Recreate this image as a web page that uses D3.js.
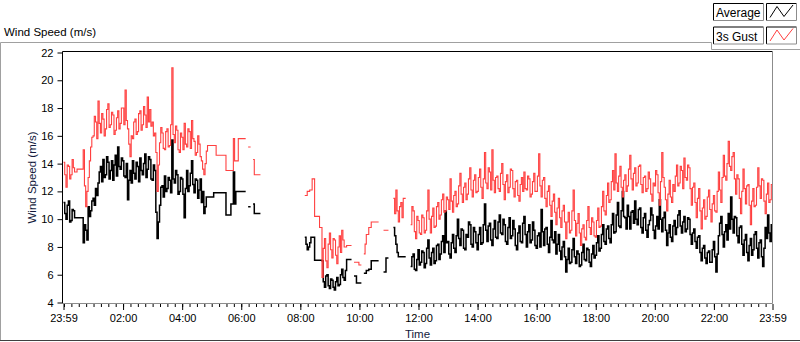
<!DOCTYPE html>
<html>
<head>
<meta charset="utf-8">
<script src="https://cdn.jsdelivr.net/npm/d3@7.9.0/dist/d3.min.js"></script>
<style>
  body { margin: 0; background: #fff; }
  svg { display: block; font-family: "Liberation Sans", Arial, sans-serif; }
</style>
</head>
<body>
<svg id="chart" width="800" height="342"></svg>
<script>
// 2.5-minute samples starting 23:59, one row per hour, null = no data
const avgSpeed = [
  11.2, 10.4, 10.0, 11.0, 11.3, 9.8, 9.9, 10.7, 10.6, 10.1, 10.1, 10.1, 10.1, 10.1, 10.1, 10.1, 8.3, 9.6, 9.2, 8.5, 10.9, 10.2, 10.6, 11.3,
  11.5, 11.0, 12.2, 11.7, 12.6, 13.4, 13.8, 12.7, 14.3, 13.0, 13.2, 14.5, 14.1, 12.9, 13.5, 14.2, 12.8, 13.9, 14.6, 13.1, 15.2, 13.8, 13.6, 14.4,
  14.2, 13.1, 13.0, 14.0, 11.4, 12.8, 13.5, 12.6, 14.2, 13.3, 12.9, 14.1, 13.8, 12.7, 14.4, 13.5, 13.2, 14.0, 14.7, 13.0, 13.6, 14.5, 14.3, 12.9,
  12.8, 13.9, 13.5, 10.5, 8.6, 9.8, 11.0, 12.3, 12.4, 11.6, 13.1, 12.0, 12.2, 13.0, 12.8, 11.9, 15.7, 12.9, 12.6, 13.5, 13.2, 11.8, 12.0, 13.0,
  12.9, 11.8, 10.1, 12.2, 13.5, 12.0, 12.4, 13.3, 14.2, 12.5, 11.9, 12.9, 12.8, 11.5, 12.1, 12.9, 11.2, 12.0, 10.4, 10.9, 11.6, 11.6, 11.6, 11.6,
  11.6, 11.6, 11.9, 11.9, 11.9, 11.9, 11.9, 11.9, 11.9, 11.9, 11.9, 11.9, 10.3, 10.3, 10.3, 10.3, 11.1, 11.1, 13.4, 11.1, 12.0, 12.0, 12.0, 12.0,
  12.0, 12.0, 12.0, 12.0, null, null, 10.9, 10.9, null, null, 11.1, 10.4, 10.4, 10.4, 10.4, 10.4, null, null, null, null, null, null, null, null,
  null, null, null, null, null, null, null, null, null, null, null, null, null, null, null, null, null, null, null, null, null, null, null, null,
  null, null, null, null, 8.7, 8.2, 7.8, 8.0, 8.3, 8.7, 8.7, 8.7, 7.05, 7.05, 7.05, 7.05, 7.05, 7.05, 7.0, 5.5, 5.1, 5.9, 6.0, 5.2,
  5.0, 5.7, 5.6, 5.1, 4.9, 5.5, 5.8, 5.2, 5.3, 6.0, 6.4, 5.8, 5.6, 6.3, 7.1, 7.1, 7.1, 7.1, null, null, 5.9, 5.9, 5.4, 5.4,
  5.4, 5.4, null, null, 6.1, 6.1, 6.3, 6.3, 6.4, 6.4, 7.0, 7.0, 7.0, 7.0, 7.0, 7.0, null, null, null, null, 6.2, 6.2, 7.2, 7.2,
  null, null, null, null, 9.4, 8.8, 8.2, 7.6, 7.3, 7.3, 7.3, 7.3, 7.3, 7.3, null, null, null, null, 6.6, 7.3, 7.5, 6.4, 6.3, 7.1,
  7.8, 6.7, 6.9, 7.7, 7.6, 6.5, 6.8, 7.9, 8.5, 7.2, 6.7, 7.6, 7.9, 6.8, 7.0, 8.1, 8.2, 7.1, 7.5, 8.4, 8.8, 7.6, 10.6, 8.3,
  8.4, 7.5, 7.2, 8.3, 8.9, 7.9, 7.6, 8.8, 10.0, 8.6, 8.1, 9.3, 9.2, 7.9, 7.8, 8.9, 8.7, 9.8, 9.6, 8.2, 8.0, 9.4, 9.1, 8.3,
  7.8, 8.9, 9.4, 8.2, 8.3, 9.6, 11.1, 9.2, 8.4, 9.5, 9.7, 8.5, 8.1, 9.3, 9.9, 8.7, 8.6, 9.8, 10.3, 9.0, 8.9, 10.0, 9.6, 8.4,
  8.2, 9.4, 10.1, 8.6, 8.8, 9.9, 9.3, 8.1, 7.8, 9.0, 9.5, 8.4, 8.3, 9.7, 10.2, 8.9, 8.0, 9.1, 9.6, 8.3, 8.5, 9.8, 9.2, 8.1,
  7.9, 8.8, 9.0, 8.0, 10.7, 9.1, 8.1, 9.3, 9.4, 8.2, 7.6, 8.7, 9.9, 8.5, 8.3, 9.1, 7.5, 8.2, 8.9, 7.7, 7.1, 8.0, 8.4, 7.3,
  6.2, 7.1, 7.9, 6.8, 6.9, 7.8, 8.6, 7.3, 6.8, 7.7, 7.5, 6.6, 6.7, 7.6, 8.2, 7.1, 7.0, 7.9, 7.8, 6.9, 6.6, 7.5, 8.1, 7.2,
  7.4, 8.3, 8.8, 7.7, 7.9, 8.9, 9.6, 8.4, 8.2, 9.3, 9.5, 8.6, 8.3, 9.6, 10.4, 9.0, 9.1, 10.3, 11.2, 9.5, 9.4, 10.6, 12.0, 10.2,
  10.1, 9.3, 11.0, 10.2, 9.3, 10.5, 10.6, 9.7, 11.3, 10.0, 9.6, 10.7, 10.8, 9.4, 9.0, 10.1, 10.4, 9.2, 8.7, 9.6, 9.9, 10.8, 10.3, 9.2,
  8.6, 9.5, 10.2, 9.3, 11.4, 10.0, 9.1, 10.1, 10.5, 9.2, 8.1, 9.0, 9.6, 8.7, 8.4, 9.5, 9.9, 8.9, 9.4, 10.3, 10.6, 9.5, 9.0, 9.8,
  10.2, 9.1, 9.3, 10.1, 10.0, 8.9, 8.2, 9.0, 9.3, 8.4, 7.9, 8.7, 8.8, 7.6, 7.0, 7.9, 8.1, 7.2, 6.8, 7.6, 7.7, 6.9, 6.9, 7.8,
  8.4, 7.3, 6.2, 7.5, 8.8, 9.7, 10.2, 8.9, 8.0, 9.1, 9.6, 8.5, 10.4, 9.3, 11.6, 10.0, 9.0, 10.2, 10.1, 8.8, 8.3, 9.4, 9.5, 8.2,
  7.4, 8.5, 8.9, 7.6, 7.0, 8.1, 8.6, 7.4, 7.8, 8.9, 9.1, 7.9, 7.2, 8.3, 8.5, 7.3, 6.6, 7.9, 9.4, 8.6, 10.3, 9.0, 8.4, 9.6
];

const gustSpeed = [
  14.1, 13.2, 12.3, 13.9, 13.8, 12.9, 13.2, 14.3, 13.7, 13.4, 13.4, 13.6, 13.6, 13.6, 13.6, 13.6, 15.0, 12.4, 10.9, 12.0, 13.0, 14.2, 15.2, 15.9,
  16.0, 17.4, 17.0, 15.8, 18.5, 16.9, 16.2, 17.6, 17.2, 16.0, 16.5, 17.9, 18.3, 16.6, 16.8, 17.7, 17.5, 16.1, 16.4, 17.3, 17.8, 16.5, 16.9, 18.0,
  18.0, 16.8, 19.3, 17.1, 16.5, 15.4, 14.5, 16.0, 15.8, 17.0, 17.2, 16.1, 16.3, 17.6, 17.8, 16.4, 16.8, 18.1, 17.5, 16.6, 18.8, 17.0, 17.9, 16.7,
  17.0, 16.0, 16.2, 14.8, 12.0, 13.9, 15.5, 16.6, 16.2, 15.1, 15.0, 16.3, 16.5, 15.2, 15.3, 16.8, 20.9, 16.1, 15.5, 16.7, 16.4, 15.0, 14.8, 16.2,
  15.9, 15.0, 16.9, 15.4, 15.2, 16.5, 16.3, 15.1, 17.1, 15.8, 15.6, 14.6, 14.8, 16.0, 15.4, 14.5, 14.2, 13.6, 13.2, 14.0, 14.9, 15.3, 15.3, 15.3,
  15.3, 15.3, 15.3, 15.3, 14.6, 14.6, 14.6, 14.6, 14.6, 14.6, 14.6, 14.6, 13.5, 13.5, 13.5, 13.5, 13.5, 13.5, 15.8, 14.2, 14.2, 14.2, 15.8, 15.8,
  15.8, 15.8, 15.8, 15.8, null, null, 15.2, 15.2, null, null, 14.3, 13.2, 13.2, 13.2, 13.2, 13.2, null, null, null, null, null, null, null, null,
  null, null, null, null, null, null, null, null, null, null, null, null, null, null, null, null, null, null, null, null, null, null, null, null,
  null, null, null, null, 11.7, 11.7, 12.0, 12.0, 12.1, 12.1, 12.9, 12.9, 10.2, 10.2, 10.2, 10.2, 9.4, 9.4, 5.8, 7.9, 8.6, 7.0, 6.5, 8.2,
  9.0, 7.8, 7.2, 8.6, 8.5, 7.4, 6.8, 8.0, 8.8, 7.6, 9.2, 8.5, 8.0, 8.0, 8.1, 8.1, 8.1, 8.1, null, null, 6.9, 6.9, 6.9, 6.9,
  6.7, 6.7, null, null, 7.5, 8.2, 8.9, 8.9, 9.4, 9.4, 9.8, 9.8, 9.8, 9.8, 9.8, 9.8, null, null, null, null, 9.2, 9.2, 9.2, 9.2,
  null, null, null, null, 11.5, 10.4, 12.1, 10.6, 9.8, 10.9, 11.2, 10.1, 11.5, 11.5, null, null, null, null, 9.6, 10.9, 10.6, 9.1, 8.6, 10.2,
  9.9, 9.0, 8.9, 10.3, 10.1, 9.0, 9.2, 10.6, 12.1, 10.0, 9.0, 10.2, 10.8, 9.4, 9.5, 10.9, 11.2, 10.0, 10.3, 11.4, 11.8, 10.5, 10.6, 11.6,
  11.4, 10.7, 12.9, 11.3, 10.5, 11.7, 12.0, 10.9, 11.1, 12.4, 13.3, 11.8, 11.2, 12.3, 12.6, 11.4, 11.8, 12.9, 13.7, 12.1, 11.6, 12.8, 13.2, 11.9,
  12.0, 13.0, 13.6, 12.3, 11.5, 12.9, 14.8, 12.6, 12.2, 13.7, 13.4, 12.1, 15.0, 12.8, 11.9, 13.0, 13.1, 12.2, 12.0, 13.3, 14.0, 12.5, 11.4, 12.7,
  13.2, 11.9, 12.3, 13.6, 13.5, 12.2, 11.6, 12.7, 12.8, 11.7, 11.3, 12.5, 13.0, 12.0, 13.4, 12.2, 12.1, 13.1, 12.9, 11.6, 11.8, 12.7, 13.3, 12.0,
  12.0, 13.1, 14.7, 12.4, 11.6, 12.8, 13.0, 11.5, 10.9, 12.0, 12.4, 11.0, 10.2, 11.3, 11.8, 10.5, 9.6, 10.8, 11.5, 10.1, 9.4, 10.6, 11.0, 9.8,
  8.6, 9.8, 10.5, 9.0, 9.2, 10.6, 12.1, 9.9, 8.8, 9.7, 10.4, 9.0, 8.1, 9.3, 9.6, 8.7, 8.5, 9.9, 10.9, 9.4, 8.9, 10.1, 9.8, 8.8,
  8.7, 9.9, 10.8, 9.4, 9.5, 10.9, 12.0, 10.6, 10.3, 11.7, 12.6, 11.2, 11.4, 12.7, 13.5, 12.1, 14.7, 12.6, 12.0, 13.1, 13.8, 12.3, 11.6, 12.8,
  13.2, 12.0, 12.4, 13.6, 14.6, 12.9, 12.1, 13.3, 13.7, 12.4, 12.6, 13.8, 13.9, 12.5, 11.9, 13.0, 13.1, 12.0, 12.2, 13.4, 12.9, 11.8, 11.3, 12.6,
  12.4, 13.5, 13.2, 11.9, 11.0, 12.7, 14.8, 13.0, 12.3, 11.4, 10.6, 11.8, 12.8, 11.6, 11.2, 12.5, 12.0, 13.1, 13.9, 12.4, 12.6, 13.8, 13.5, 12.2,
  14.4, 13.0, 12.8, 13.9, 13.7, 12.2, 11.0, 12.3, 12.6, 11.2, 10.1, 11.5, 12.2, 10.6, 9.3, 10.8, 11.4, 10.0, 10.2, 11.6, 12.1, 10.7, 9.8, 11.1,
  11.7, 10.6, 10.5, 12.0, 13.4, 12.1, 11.2, 13.0, 14.6, 13.1, 12.8, 14.0, 15.6, 13.8, 13.5, 14.5, 14.8, 12.9, 11.8, 13.2, 12.9, 11.5, 10.4, 12.0,
  13.6, 12.2, 11.1, 12.4, 12.5, 11.0, 9.6, 11.3, 12.2, 10.9, 11.0, 12.3, 13.7, 12.4, 11.5, 12.9, 12.8, 11.3, 10.4, 11.8, 12.6, 11.2, 11.4, 12.5
];

const seriesNames = ['Average', '3s Gust'];
const seriesColors = ['#000000', '#ff4040'];
const yTicks = [4, 6, 8, 10, 12, 14, 16, 18, 20, 22];
const startTime = new Date(2020, 0, 1, 23, 59);
const stepSeconds = 150;
const endTime = d3.timeMinute.offset(startTime, 24 * 60);

const svg = d3.select('#chart');
const plot = { left: 62.5, right: 772.5, top: 51.5, bottom: 303.5 };

const x = d3.scaleTime().domain([startTime, endTime]).range([63.5, 772.5]);
const y = d3.scaleLinear().domain([4, 22]).range([302.5, 52.5]);

const slotTime = i => d3.timeSecond.offset(startTime, i * stepSeconds);

// outer frame
svg.append('path')
  .attr('d', 'M0.5,340 V42.5 H711.5 V49.5 H800')
  .attr('fill', 'none').attr('stroke', '#a0a0a0');
svg.append('line')
  .attr('x1', 0).attr('x2', 800).attr('y1', 340.5).attr('y2', 340.5)
  .attr('stroke', '#404040');

svg.append('text')
  .attr('x', 4).attr('y', 36)
  .style('font-size', '11.5px')
  .text('Wind Speed (m/s)');

// axes
const majorTicks = [startTime]
  .concat(d3.timeHour.every(2).range(startTime, endTime).filter(d => d - startTime > 30 * 60000))
  .concat([endTime]);
const minorTicks = d3.timeMinute.every(15).range(startTime, endTime);

const xMinor = svg.append('g')
  .attr('transform', 'translate(0,304)')
  .call(d3.axisBottom(x).tickValues(minorTicks).tickSize(3).tickFormat(''));
const xMajor = svg.append('g')
  .attr('transform', 'translate(0,304)')
  .call(d3.axisBottom(x).tickValues(majorTicks).tickSize(6).tickPadding(4)
    .tickFormat(d3.timeFormat('%H:%M')));

const yAxis = svg.append('g')
  .attr('transform', `translate(${plot.left},0)`)
  .call(d3.axisLeft(y).tickValues(yTicks).tickSize(5).tickPadding(4));

[xMinor, xMajor, yAxis].forEach(g => {
  g.select('.domain').remove();
  g.selectAll('text').style('font-size', '11px').attr('fill', '#000');
  g.selectAll('line').attr('stroke', '#000');
});

svg.append('text')
  .attr('transform', `translate(36,${(plot.top + plot.bottom) / 2}) rotate(-90)`)
  .attr('text-anchor', 'middle')
  .attr('fill', '#121a3c')
  .style('font-size', '11.5px')
  .text('Wind Speed (m/s)');

svg.append('text')
  .attr('x', (plot.left + plot.right) / 2).attr('y', 338)
  .attr('text-anchor', 'middle')
  .attr('fill', '#121a3c')
  .style('font-size', '11.5px')
  .text('Time');

// series
svg.append('clipPath').attr('id', 'clip')
  .append('rect')
  .attr('x', plot.left).attr('y', plot.top)
  .attr('width', plot.right - plot.left).attr('height', plot.bottom - plot.top);

// hold the last value of each run for one sample so isolated runs stay visible
function toPoints(vals) {
  const pts = [];
  vals.forEach((v, i) => {
    pts.push({ i, v });
    if (v != null && (i === vals.length - 1 || vals[i + 1] == null)) pts.push({ i: i + 1, v });
  });
  return pts;
}

const line = d3.line()
  .defined(d => d.v != null)
  .x(d => x(slotTime(d.i)))
  .y(d => y(d.v))
  .curve(d3.curveStepAfter);

const series = [avgSpeed, gustSpeed];
const widths = [1.5, 1.1];
series.forEach((vals, k) => {
  svg.append('path')
    .attr('clip-path', 'url(#clip)')
    .attr('d', line(toPoints(vals)))
    .attr('fill', 'none')
    .attr('stroke', seriesColors[k])
    .attr('stroke-width', widths[k]);
});

// plot border
svg.append('path')
  .attr('d', `M${plot.left},${plot.bottom} V${plot.top} H${plot.right}`)
  .attr('fill', 'none').attr('stroke', '#000');
svg.append('path')
  .attr('d', `M${plot.right},${plot.top} V${plot.bottom} H${plot.left}`)
  .attr('fill', 'none').attr('stroke', '#8c8c8c');

// legend
seriesNames.forEach((name, k) => {
  const top = 3.5 + k * 23.5;
  const g = svg.append('g');
  [[713.5, 763.5], [766.5, 796.5]].forEach(([l, r]) => {
    g.append('path')
      .attr('d', `M${l},${top + 17} V${top} H${r}`)
      .attr('fill', 'none').attr('stroke', '#000');
    g.append('path')
      .attr('d', `M${r},${top} V${top + 17} H${l}`)
      .attr('fill', 'none').attr('stroke', '#8c8c8c');
  });
  g.append('text')
    .attr('x', 716).attr('y', top + 13.5)
    .style('font-size', '12px')
    .text(name);
  g.append('polyline')
    .attr('points', [[770, top + 14], [777, top + 3], [784, top + 13], [793, top + 1.5]].join(' '))
    .attr('fill', 'none')
    .attr('stroke', seriesColors[k]);
});
</script>
</body>
</html>
